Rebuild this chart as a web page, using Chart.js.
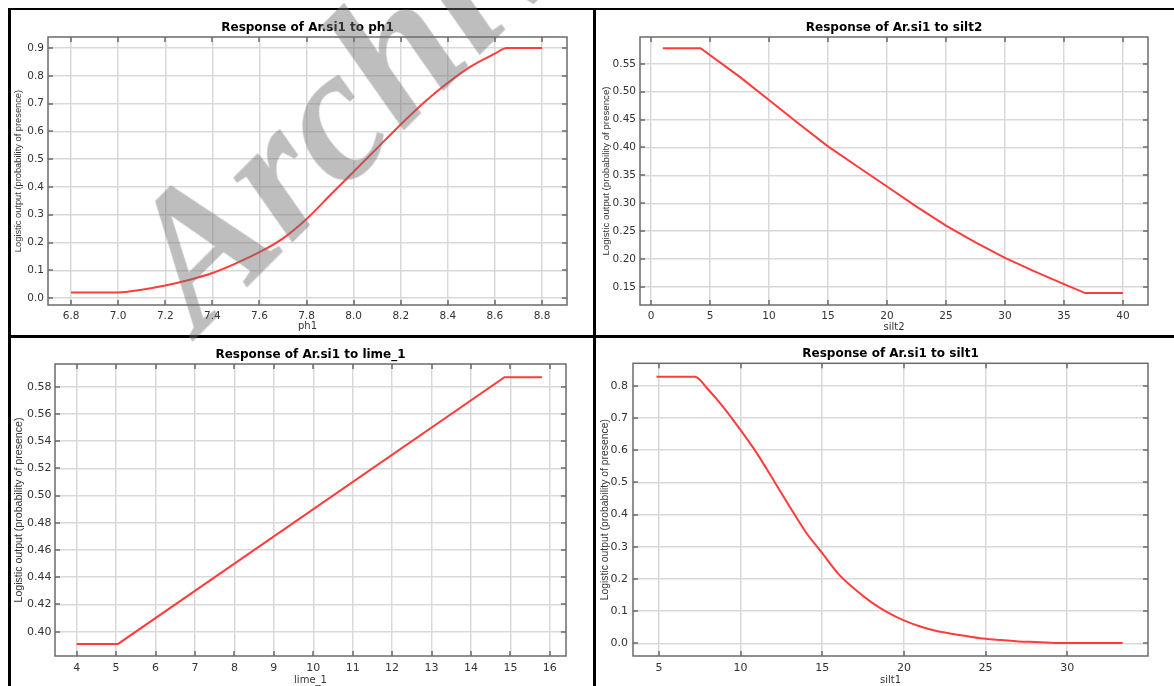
<!DOCTYPE html>
<html>
<head>
<meta charset="utf-8">
<script src="https://cdn.jsdelivr.net/npm/chart.js@4.4.1/dist/chart.umd.min.js"></script>
<style>
  html, body { margin: 0; padding: 0; background: #fff; }
  body { width: 1174px; height: 686px; position: relative; overflow: hidden; }
  .panel { position: absolute; }
  .rule { position: absolute; background: #000; }
  #wm {
    position: absolute; left: 200px; top: 176px;
    font: italic bold 190px "Liberation Serif", serif; line-height: 1;
    color: rgba(110, 110, 110, 0.45); white-space: nowrap;
    transform: rotate(-45deg); transform-origin: 0 159px;
    pointer-events: none; z-index: 5;
  }
</style>
</head>
<body>
<div class="rule" style="left:8px;top:8px;width:1166px;height:2px"></div>
<div class="rule" style="left:8px;top:8px;width:3px;height:678px"></div>
<div class="rule" style="left:593px;top:8px;width:3px;height:678px"></div>
<div class="rule" style="left:8px;top:335px;width:1166px;height:3px"></div>

<div class="panel" style="left:11px;top:10px;width:582px;height:325px"><canvas id="ph1"></canvas></div>
<div class="panel" style="left:596px;top:10px;width:578px;height:325px"><canvas id="silt2"></canvas></div>
<div class="panel" style="left:11px;top:338px;width:582px;height:348px"><canvas id="lime1"></canvas></div>
<div class="panel" style="left:596px;top:338px;width:578px;height:348px"><canvas id="silt1"></canvas></div>

<div id="wm">Archive</div>

<script>
// response of Ar.si1 to ph1
const ph1X = [6.8, 7.0, 7.1, 7.2, 7.3, 7.4, 7.5, 7.6, 7.7, 7.8, 7.9, 8.0, 8.1, 8.2, 8.3, 8.4, 8.5, 8.6, 8.65, 8.8];
const ph1Y = [0.02, 0.02, 0.03, 0.045, 0.065, 0.09, 0.125, 0.165, 0.215, 0.285, 0.37, 0.455, 0.54, 0.625, 0.705, 0.775, 0.835, 0.88, 0.9, 0.9];
const ph1XTicks = [6.8, 7.0, 7.2, 7.4, 7.6, 7.8, 8.0, 8.2, 8.4, 8.6, 8.8];
const ph1YTicks = [0.0, 0.1, 0.2, 0.3, 0.4, 0.5, 0.6, 0.7, 0.8, 0.9];

// response to silt2
const silt2X = [1, 4.2, 7.5, 10, 12.5, 15, 17.5, 20, 22.5, 25, 27.5, 30, 32.5, 35, 36.8, 40];
const silt2Y = [0.578, 0.578, 0.527, 0.485, 0.443, 0.402, 0.366, 0.33, 0.294, 0.26, 0.23, 0.202, 0.178, 0.155, 0.139, 0.139];
const silt2XTicks = [0, 5, 10, 15, 20, 25, 30, 35, 40];
const silt2YTicks = [0.15, 0.20, 0.25, 0.30, 0.35, 0.40, 0.45, 0.50, 0.55];

// response to lime_1
const lime1X = [4, 5.05, 14.85, 15.8];
const lime1Y = [0.391, 0.391, 0.587, 0.587];
const lime1XTicks = [4, 5, 6, 7, 8, 9, 10, 11, 12, 13, 14, 15, 16];
const lime1YTicks = [0.40, 0.42, 0.44, 0.46, 0.48, 0.50, 0.52, 0.54, 0.56, 0.58];

// response to silt1
const silt1X = [4.85, 7.2, 8, 9, 10, 11, 12, 13, 14, 15, 16, 17, 18, 19, 20, 21, 22, 23, 24, 25, 26, 27, 28, 29, 30, 33.4];
const silt1Y = [0.828, 0.828, 0.789, 0.73, 0.662, 0.59, 0.508, 0.425, 0.345, 0.28, 0.215, 0.168, 0.128, 0.096, 0.071, 0.052, 0.038, 0.029, 0.021, 0.014, 0.01, 0.006, 0.004, 0.002, 0.001, 0.001];
const silt1XTicks = [5, 10, 15, 20, 25, 30];
const silt1YTicks = [0.0, 0.1, 0.2, 0.3, 0.4, 0.5, 0.6, 0.7, 0.8];

const yAxisTitle = 'Logistic output (probability of presence)';

// frame + inward tick marks on all four sides
const framePlugin = {
    id: 'frame',
    afterDatasetsDraw(chart) {
        const { ctx, chartArea: a, scales: { x, y } } = chart;
        ctx.save();
        ctx.strokeStyle = '#6b6b6b';
        ctx.lineWidth = 1.5;
        ctx.beginPath();
        x.ticks.forEach(t => {
            const px = Math.round(x.getPixelForValue(t.value));
            ctx.moveTo(px, a.top); ctx.lineTo(px, a.top + 5);
            ctx.moveTo(px, a.bottom); ctx.lineTo(px, a.bottom - 5);
        });
        y.ticks.forEach(t => {
            const py = Math.round(y.getPixelForValue(t.value));
            ctx.moveTo(a.left, py); ctx.lineTo(a.left + 5, py);
            ctx.moveTo(a.right, py); ctx.lineTo(a.right - 5, py);
        });
        ctx.stroke();
        ctx.strokeRect(a.left, a.top, a.right - a.left, a.bottom - a.top);
        ctx.restore();
    }
};

function makePanel(id, p) {
    const lhTitle = 12 * 1.2;
    const lhTick = p.tickSize * 1.2;
    const lhX = 10 * 1.2;
    const lhY = p.yTitleSize * 1.2;
    const tickFont = { family: 'DejaVu Sans', size: p.tickSize, lineHeight: 1.2 };

    return new Chart(document.getElementById(id), {
        type: 'line',
        data: {
            datasets: [{
                data: p.xs.map((x, i) => ({ x: x, y: p.ys[i] })),
                borderColor: '#ff3c3c',
                borderWidth: 2,
                pointRadius: 0,
                fill: false,
                tension: 0,
                cubicInterpolationMode: p.smooth ? 'monotone' : 'default'
            }]
        },
        options: {
            responsive: true,
            maintainAspectRatio: false,
            animation: false,
            devicePixelRatio: 1,
            events: [],
            layout: { padding: { left: 0, top: 0, right: p.gapRight, bottom: 0 } },
            plugins: {
                legend: { display: false },
                tooltip: { enabled: false },
                title: {
                    display: true,
                    text: p.title,
                    fullSize: false,
                    color: '#000',
                    font: { family: 'DejaVu Sans', size: 12, weight: 'bold', lineHeight: 1.2 },
                    padding: { top: p.titleY - lhTitle / 2, bottom: p.top - p.titleY - lhTitle / 2 }
                }
            },
            scales: {
                x: {
                    type: 'linear',
                    min: p.xMin,
                    max: p.xMax,
                    afterBuildTicks: s => { s.ticks = p.xTicks.map(v => ({ value: v })); },
                    afterFit: s => { s.height = p.gapBottom; },
                    grid: { color: '#d9d9d9', lineWidth: 1.5, drawTicks: false },
                    border: { display: false },
                    ticks: {
                        color: '#333',
                        font: tickFont,
                        padding: p.xTickY - lhTick / 2,
                        maxRotation: 0,
                        autoSkip: false,
                        callback: v => v.toFixed(p.xDec)
                    },
                    title: {
                        display: true,
                        text: p.xLabel,
                        color: '#333',
                        font: { family: 'DejaVu Sans', size: 10, lineHeight: 1.2 },
                        padding: { top: 0, bottom: p.xTitleY - lhX / 2 }
                    }
                },
                y: {
                    type: 'linear',
                    min: p.yMin,
                    max: p.yMax,
                    afterBuildTicks: s => { s.ticks = p.yTicks.map(v => ({ value: v })); },
                    afterFit: s => { s.width = p.left; },
                    grid: { color: '#d9d9d9', lineWidth: 1.5, drawTicks: false },
                    border: { display: false },
                    ticks: {
                        color: '#333',
                        font: tickFont,
                        padding: p.yTickGap,
                        autoSkip: false,
                        callback: v => v.toFixed(p.yDec)
                    },
                    title: {
                        display: true,
                        text: yAxisTitle,
                        color: '#333',
                        font: { family: 'Liberation Sans', size: p.yTitleSize, lineHeight: 1.2 },
                        padding: { top: p.yTitleX - lhY / 2, bottom: 0 }
                    }
                }
            }
        },
        plugins: [framePlugin]
    });
}

makePanel('ph1', {
    title: 'Response of Ar.si1 to ph1', xLabel: 'ph1',
    xs: ph1X, ys: ph1Y, xTicks: ph1XTicks, yTicks: ph1YTicks, xDec: 1, yDec: 1,
    xMin: 6.702, xMax: 8.906, yMin: -0.025, yMax: 0.94, smooth: true,
    left: 37, top: 27, gapRight: 26, gapBottom: 30,
    titleY: 18, tickSize: 10.5, xTickY: 11, xTitleY: 9, yTickGap: 4, yTitleSize: 9.3, yTitleX: 7.3
});

makePanel('silt2', {
    title: 'Response of Ar.si1 to silt2', xLabel: 'silt2',
    xs: silt2X, ys: silt2Y, xTicks: silt2XTicks, yTicks: silt2YTicks, xDec: 0, yDec: 2,
    xMin: -0.93, xMax: 42.12, yMin: 0.1177, yMax: 0.598, smooth: false,
    left: 44, top: 27, gapRight: 26, gapBottom: 30,
    titleY: 18, tickSize: 10.5, xTickY: 11, xTitleY: 7.5, yTickGap: 4, yTitleSize: 9.7, yTitleX: 10.7
});

makePanel('lime1', {
    title: 'Response of Ar.si1 to lime_1', xLabel: 'lime_1',
    xs: lime1X, ys: lime1Y, xTicks: lime1XTicks, yTicks: lime1YTicks, xDec: 0, yDec: 2,
    xMin: 3.45, xMax: 16.41, yMin: 0.3821, yMax: 0.5967, smooth: false,
    left: 44, top: 26, gapRight: 27, gapBottom: 30,
    titleY: 17, tickSize: 11, xTickY: 12.3, xTitleY: 6, yTickGap: 3.5, yTitleSize: 10.6, yTitleX: 8
});

makePanel('silt1', {
    title: 'Response of Ar.si1 to silt1', xLabel: 'silt1',
    xs: silt1X, ys: silt1Y, xTicks: silt1XTicks, yTicks: silt1YTicks, xDec: 0, yDec: 1,
    xMin: 3.41, xMax: 34.95, yMin: -0.0394, yMax: 0.8696, smooth: true,
    left: 37, top: 25.3, gapRight: 26, gapBottom: 30,
    titleY: 16, tickSize: 11, xTickY: 12.3, xTitleY: 6, yTickGap: 5, yTitleSize: 10.4, yTitleX: 9.5
});
</script>
</body>
</html>
